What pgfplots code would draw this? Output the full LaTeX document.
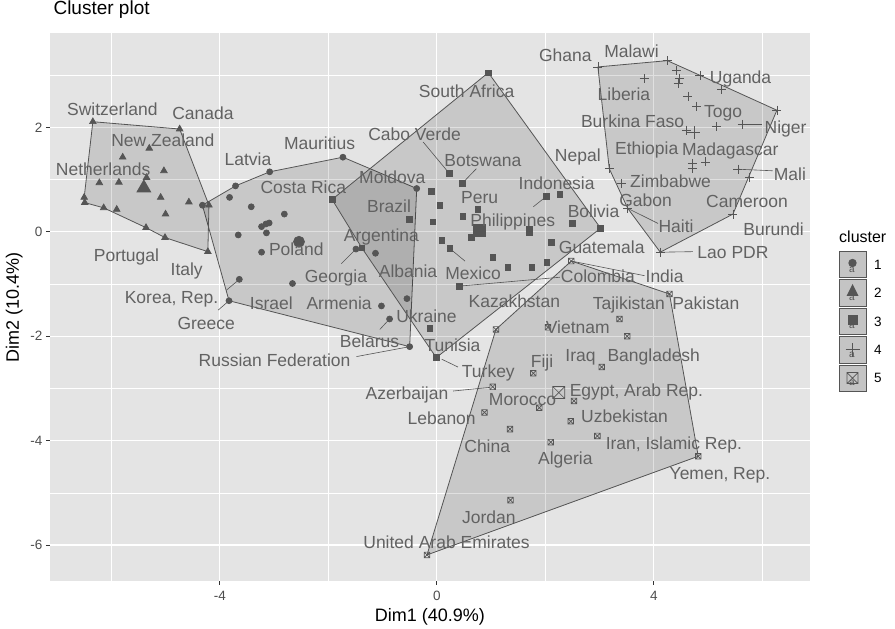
\documentclass[border=0pt]{standalone}
\usepackage{fontspec}
\setmainfont{Liberation Sans}
\usepackage{pgfplots}
\pgfplotsset{compat=1.18}

\definecolor{panelbg}{RGB}{228,228,228}
\definecolor{ptcol}{RGB}{85,85,85}
\definecolor{labcol}{RGB}{98,98,98}
\definecolor{ticklab}{RGB}{77,77,77}
\definecolor{keyfill}{RGB}{196,196,196}

% square with a cross, the mark of cluster 5
\pgfdeclareplotmark{boxx}{%
  \pgfpathrectangle{\pgfpoint{-\pgfplotmarksize}{-\pgfplotmarksize}}{\pgfpoint{2\pgfplotmarksize}{2\pgfplotmarksize}}%
  \pgfpathmoveto{\pgfpoint{-\pgfplotmarksize}{-\pgfplotmarksize}}%
  \pgfpathlineto{\pgfpoint{\pgfplotmarksize}{\pgfplotmarksize}}%
  \pgfpathmoveto{\pgfpoint{-\pgfplotmarksize}{\pgfplotmarksize}}%
  \pgfpathlineto{\pgfpoint{\pgfplotmarksize}{-\pgfplotmarksize}}%
  \pgfusepathqstroke}

\pgfplotsset{
  hull/.style={fill=black, fill opacity=0.12, draw=ptcol, line width=0.8pt, no marks},
  seg/.style={draw=ptcol, line width=0.6pt, no marks},
  pts/.style={only marks, color=ptcol, mark options={solid, line width=0.7pt}},
}
\tikzset{lab/.style={font=\fontsize{17.5}{17.5}\selectfont, text=labcol, inner sep=0pt, anchor=base, yshift=-6.2pt}}

\begin{document}
\begin{tikzpicture}
\path[use as bounding box] (0,0) rectangle (895pt,629pt);
\begin{axis}[
  at={(50pt,48pt)}, anchor=south west,
  scale only axis, width=760pt, height=548pt,
  xmin=-7.13, xmax=6.88, ymin=-6.69, ymax=3.81,
  axis background/.style={fill=panelbg},
  axis line style={draw=none},
  clip mode=individual,
  xtick={-4,0,4}, xticklabels={-4,0,4},
  ytick={-6,-4,-2,0,2}, yticklabels={-6,-4,-2,0,2},
  minor xtick={-6,-2,2,6}, minor ytick={-5,-3,-1,1,3},
  grid=both,
  major grid style={white, line width=1.1pt},
  minor grid style={white, line width=0.55pt},
  tick pos=left, tick align=outside,
  major tick length=4pt, minor tick length=0pt,
  tick style={color=black!80, line width=0.8pt},
  ticklabel style={font=\fontsize{13.5}{13.5}\selectfont, text=ticklab},
  xticklabel style={yshift=-3pt},
  xlabel={Dim1 (40.9\%)}, ylabel={Dim2 (10.4\%)},
  xlabel style={at={(axis description cs:0.5,-0.066)}, anchor=center, font=\fontsize{18}{18}\selectfont},
  ylabel style={at={(axis description cs:-0.047,0.5)}, anchor=center, rotate=0, font=\fontsize{18}{18}\selectfont},
  title={Cluster plot},
  title style={at={(axis description cs:0,1)}, anchor=base west, yshift=12pt, font=\fontsize{19}{19}\selectfont},
]
% hulls
\addplot[hull] coordinates {(-4.32,0.51) (-3.71,0.88) (-3.08,1.15) (-1.73,1.43) (-0.37,0.83) (-0.50,-2.20) (-3.83,-1.32) (-4.32,0.51)};
\addplot[hull] coordinates {(-6.34,2.11) (-4.74,1.97) (-4.20,0.51) (-4.22,-0.38) (-5.01,-0.11) (-5.36,0.08) (-6.14,0.46) (-6.49,0.56) (-6.50,0.66) (-6.34,2.11)};
\addplot[hull] coordinates {(0.95,3.05) (3.02,0.07) (-0.01,-2.41) (-1.38,-0.31) (-1.93,0.62) (0.95,3.05)};
\addplot[hull] coordinates {(2.97,3.16) (4.25,3.28) (4.85,3.00) (6.27,2.33) (5.46,0.34) (4.12,-0.39) (3.52,0.45) (3.18,1.21) (2.97,3.16)};
\addplot[hull] coordinates {(1.09,-1.87) (2.48,-0.56) (4.29,-1.19) (4.82,-4.30) (-0.18,-6.19) (1.09,-1.87)};

% cluster 1
\addplot[pts, mark=*, mark size=3pt] coordinates {
  (-4.32,0.51) (-3.71,0.88) (-3.08,1.15) (-1.73,1.43) (-0.37,0.83) (-0.50,-2.20)
  (-3.83,-1.32) (-3.64,-0.91) (-3.82,0.66) (-3.42,0.48) (-2.81,0.34) (-3.23,0.10)
  (-3.15,0.15) (-3.09,0.17) (-3.14,-0.02) (-3.66,-0.06) (-3.23,-0.39) (-2.66,-0.99)
  (-1.49,-0.33) (-1.13,-0.41) (-1.02,-1.42) (-0.87,-1.67) (-0.55,-1.28)};
\addplot[pts, mark=*, mark size=5.5pt] coordinates {(-2.54,-0.19)};
% cluster 2
\addplot[pts, mark=triangle*, mark size=3.8pt] coordinates {
  (-6.34,2.11) (-4.74,1.97) (-5.30,1.60) (-5.79,1.43) (-5.03,1.17) (-5.35,1.04)
  (-6.22,0.94) (-5.86,0.95) (-6.50,0.66) (-5.09,0.66) (-4.57,0.57) (-6.49,0.56)
  (-4.20,0.51) (-6.14,0.46) (-5.90,0.43) (-5.00,0.34) (-5.36,0.08) (-5.01,-0.11)
  (-4.22,-0.38)};
\addplot[pts, mark=triangle*, mark size=8pt] coordinates {(-5.40,0.84)};
% cluster 3
\addplot[pts, mark=square*, mark size=2.8pt] coordinates {
  (0.95,3.05) (3.02,0.07) (-0.01,-2.41) (-1.38,-0.31) (-1.93,0.62) (0.23,1.12)
  (0.47,0.93) (-0.10,0.77) (0.06,0.51) (-0.51,0.24) (-0.07,0.19) (0.48,0.30)
  (0.76,0.43) (0.64,-0.11) (0.09,-0.16) (0.24,-0.32) (1.03,-0.49) (1.31,-0.68)
  (1.75,-0.68) (2.03,-0.59) (2.11,-0.20) (1.71,0.05) (1.71,-0.02) (2.02,0.68)
  (2.27,0.72) (2.50,0.16) (0.42,-1.04) (-0.13,-1.85)};
\addplot[pts, mark=square*, mark size=6pt] coordinates {(0.78,0.03)};
% cluster 4
\addplot[pts, mark=+, mark size=4.5pt] coordinates {
  (2.97,3.16) (4.25,3.28) (4.42,3.10) (4.48,2.94) (4.45,2.84) (3.82,2.94)
  (4.85,3.00) (5.25,2.73) (4.63,2.60) (4.79,2.41) (6.27,2.33) (5.16,2.02)
  (5.63,2.06) (4.60,1.95) (4.71,1.31) (4.71,1.21) (4.96,1.34) (3.18,1.21)
  (5.55,1.20) (5.77,1.05) (3.40,0.93) (3.52,0.45) (5.46,0.34) (4.12,-0.39)};
\addplot[pts, mark=+, mark size=6.5pt] coordinates {(4.74,1.90)};
% cluster 5
\addplot[pts, mark=boxx, mark size=2.8pt] coordinates {
  (1.09,-1.87) (2.48,-0.56) (4.29,-1.19) (3.37,-1.67) (3.51,-2.00) (2.05,-1.83)
  (1.78,-2.71) (3.04,-2.59) (1.03,-2.97) (2.53,-3.24) (1.89,-3.37) (0.88,-3.46)
  (2.47,-3.63) (1.35,-3.78) (2.96,-3.91) (2.10,-4.03) (4.82,-4.30) (1.36,-5.14)
  (-0.18,-6.19)};
\addplot[pts, mark=boxx, mark size=6pt] coordinates {(2.25,-3.08)};

% label segments
\addplot[seg] coordinates {(0.24,-0.32) (0.52,-0.56)};
\addplot[seg] coordinates {(0.42,-1.04) (2.27,-0.87)};
\addplot[seg] coordinates {(2.48,-0.56) (3.83,-0.84)};
\addplot[seg] coordinates {(-0.25,1.72) (0.23,1.12)};
\addplot[seg] coordinates {(0.73,1.21) (0.47,0.93)};
\addplot[seg] coordinates {(1.78,0.48) (2.02,0.68)};
\addplot[seg] coordinates {(-1.76,-0.61) (-1.49,-0.33)};
\addplot[seg] coordinates {(-1.05,-1.87) (-0.87,-1.67)};
\addplot[seg] coordinates {(-1.48,-2.39) (-0.50,-2.20)};
\addplot[seg] coordinates {(-3.88,-1.12) (-3.64,-0.91)};
\addplot[seg] coordinates {(-4.03,-1.50) (-3.83,-1.32)};
\addplot[seg] coordinates {(0.09,-2.44) (0.39,-2.59)};
\addplot[seg] coordinates {(0.30,-3.05) (0.98,-2.98)};
\addplot[seg] coordinates {(5.63,2.06) (5.99,2.06)};
\addplot[seg] coordinates {(5.55,1.20) (6.19,1.17)};
\addplot[seg] coordinates {(3.52,0.45) (4.08,0.16)};
\addplot[seg] coordinates {(4.12,-0.39) (4.72,-0.38)};

% labels
\node[lab] at (axis cs:-5.98,2.34) {Switzerland};
\node[lab] at (axis cs:-4.31,2.28) {Canada};
\node[lab] at (axis cs:-5.05,1.76) {New Zealand};
\node[lab] at (axis cs:-6.15,1.20) {Netherlands};
\node[lab] at (axis cs:-5.72,-0.45) {Portugal};
\node[lab] at (axis cs:-4.61,-0.72) {Italy};
\node[lab] at (axis cs:-4.89,-1.25) {Korea, Rep.};
\node[lab] at (axis cs:-4.25,-1.75) {Greece};
\node[lab] at (axis cs:-3.48,1.39) {Latvia};
\node[lab] at (axis cs:-2.16,1.69) {Mauritius};
\node[lab] at (axis cs:-2.46,0.85) {Costa Rica};
\node[lab] at (axis cs:-0.82,1.05) {Moldova};
\node[lab] at (axis cs:-0.88,0.48) {Brazil};
\node[lab] at (axis cs:-1.02,-0.06) {Argentina};
\node[lab] at (axis cs:-2.59,-0.34) {Poland};
\node[lab] at (axis cs:-1.86,-0.86) {Georgia};
\node[lab] at (axis cs:-0.53,-0.75) {Albania};
\node[lab] at (axis cs:-3.05,-1.36) {Israel};
\node[lab] at (axis cs:-1.80,-1.36) {Armenia};
\node[lab] at (axis cs:-0.19,-1.61) {Ukraine};
\node[lab] at (axis cs:-1.24,-2.09) {Belarus};
\node[lab] at (axis cs:-2.99,-2.46) {Russian Federation};
\node[lab] at (axis cs:0.55,2.70) {South Africa};
\node[lab] at (axis cs:-0.41,1.87) {Cabo Verde};
\node[lab] at (axis cs:0.85,1.37) {Botswana};
\node[lab] at (axis cs:0.79,0.66) {Peru};
\node[lab] at (axis cs:1.40,0.22) {Philippines};
\node[lab] at (axis cs:0.67,-0.80) {Mexico};
\node[lab] at (axis cs:2.21,0.93) {Indonesia};
\node[lab] at (axis cs:2.89,0.40) {Bolivia};
\node[lab] at (axis cs:3.04,-0.29) {Guatemala};
\node[lab] at (axis cs:2.97,-0.85) {Colombia};
\node[lab] at (axis cs:1.43,-1.34) {Kazakhstan};
\node[lab] at (axis cs:0.29,-2.17) {Tunisia};
\node[lab] at (axis cs:0.95,-2.68) {Turkey};
\node[lab] at (axis cs:2.37,3.39) {Ghana};
\node[lab] at (axis cs:3.59,3.45) {Malawi};
\node[lab] at (axis cs:5.60,2.97) {Uganda};
\node[lab] at (axis cs:3.45,2.63) {Liberia};
\node[lab] at (axis cs:5.28,2.31) {Togo};
\node[lab] at (axis cs:3.61,2.11) {Burkina Faso};
\node[lab] at (axis cs:6.43,2.00) {Niger};
\node[lab] at (axis cs:3.87,1.60) {Ethiopia};
\node[lab] at (axis cs:5.41,1.58) {Madagascar};
\node[lab] at (axis cs:2.60,1.47) {Nepal};
\node[lab] at (axis cs:6.51,1.10) {Mali};
\node[lab] at (axis cs:4.31,0.96) {Zimbabwe};
\node[lab] at (axis cs:3.85,0.61) {Gabon};
\node[lab] at (axis cs:5.72,0.58) {Cameroon};
\node[lab] at (axis cs:4.41,0.10) {Haiti};
\node[lab] at (axis cs:6.21,0.05) {Burundi};
\node[lab] at (axis cs:5.46,-0.39) {Lao PDR};
\node[lab] at (axis cs:4.20,-0.85) {India};
\node[lab] at (axis cs:3.54,-1.36) {Tajikistan};
\node[lab] at (axis cs:4.96,-1.36) {Pakistan};
\node[lab] at (axis cs:2.60,-1.83) {Vietnam};
\node[lab] at (axis cs:2.65,-2.36) {Iraq};
\node[lab] at (axis cs:4.00,-2.36) {Bangladesh};
\node[lab] at (axis cs:1.94,-2.49) {Fiji};
\node[lab] at (axis cs:3.68,-3.03) {Egypt, Arab Rep.};
\node[lab] at (axis cs:-0.55,-3.10) {Azerbaijan};
\node[lab] at (axis cs:1.58,-3.21) {Morocco};
\node[lab] at (axis cs:0.09,-3.57) {Lebanon};
\node[lab] at (axis cs:3.46,-3.53) {Uzbekistan};
\node[lab] at (axis cs:0.93,-4.11) {China};
\node[lab] at (axis cs:4.37,-4.05) {Iran, Islamic Rep.};
\node[lab] at (axis cs:2.37,-4.34) {Algeria};
\node[lab] at (axis cs:5.22,-4.63) {Yemen, Rep.};
\node[lab] at (axis cs:0.96,-5.47) {Jordan};
\node[lab] at (axis cs:0.18,-5.94) {United Arab Emirates};
\end{axis}

% legend
\node[anchor=base west, font=\fontsize{16}{16}\selectfont, inner sep=0pt] at (839pt,386pt) {cluster};
\begin{scope}[every node/.style={inner sep=0pt}]
\foreach \yy/\nn in {364.5/1, 336.1/2, 307.7/3, 279.3/4, 250.9/5} {
  \draw[fill=keyfill, draw=ptcol, line width=0.6pt] (839pt,\yy pt-13.2pt) rectangle (866pt,\yy pt+13.2pt);
  \node[anchor=base west, font=\fontsize{13.5}{13.5}\selectfont] at (874pt,\yy pt-4.8pt) {\nn};
  \node[text=ptcol, font=\fontsize{10}{10}\selectfont] at (852pt,\yy pt-5pt) {a};
}
\fill[ptcol] (852.5pt,366pt) circle (4.2pt);
\fill[ptcol] (846.5pt,333pt) -- (858.5pt,333pt) -- (852.5pt,345pt) -- cycle;
\fill[ptcol] (847.5pt,304pt) rectangle (857.5pt,314pt);
\draw[ptcol, line width=0.7pt] (845.5pt,279.3pt) -- (859.5pt,279.3pt) (852.5pt,272.3pt) -- (852.5pt,286.3pt);
\draw[ptcol, line width=0.7pt] (847pt,245.4pt) rectangle (858pt,256.4pt) (847pt,245.4pt) -- (858pt,256.4pt) (847pt,256.4pt) -- (858pt,245.4pt);
\end{scope}
\end{tikzpicture}
\end{document}
